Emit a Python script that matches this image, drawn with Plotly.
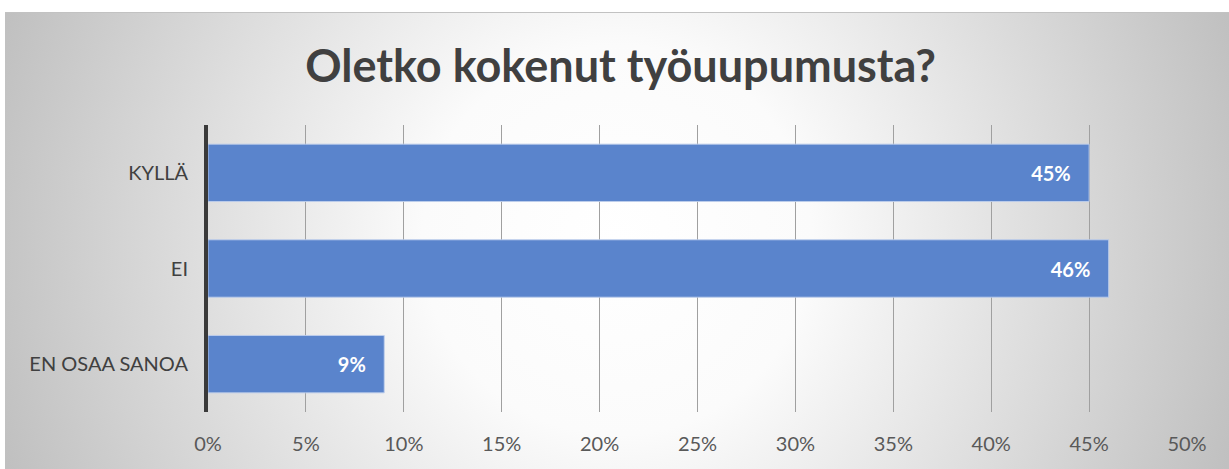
import base64
import plotly.graph_objects as go

categories = ["KYLLÄ", "EI", "EN OSAA SANOA"]
values = [0.45, 0.46, 0.09]
title_text = "Oletko kokenut työuupumusta?"

W, H = 1229, 469
L, R, T, B = 208, 42, 125, 57
pw, ph = W - L - R, H - T - B

svg = f"""<svg xmlns='http://www.w3.org/2000/svg' width='1224' height='457' viewBox='0 0 1224 457' preserveAspectRatio='none'>
<defs><radialGradient id='g' gradientUnits='userSpaceOnUse' cx='612' cy='228' r='650'>
<stop offset='0' stop-color='#ffffff'/>
<stop offset='0.3' stop-color='#fbfbfb'/>
<stop offset='1' stop-color='#c0c0c0'/>
</radialGradient></defs>
<rect x='0' y='0' width='1224' height='457' fill='url(#g)'/>
<line x1='0' y1='0.5' x2='1224' y2='0.5' stroke='#c2c2c2' stroke-width='1'/>
</svg>"""
src = "data:image/svg+xml;base64," + base64.b64encode(svg.encode()).decode()

fig = go.Figure(go.Bar(
    y=categories, x=values, orientation="h", width=0.6,
    marker=dict(color="#5A84CC", line=dict(color="rgba(190,206,236,0.9)", width=1)),
    texttemplate="<b>%{x:.0%}</b>\u00a0\u00a0\u00a0",
    textposition="inside", insidetextanchor="end",
    textfont=dict(family="Lato", size=20, color="white"),
    hoverinfo="skip",
))

fig.update_layout(
    width=W, height=H,
    margin=dict(l=L, r=R, t=T, b=B),
    paper_bgcolor="white", plot_bgcolor="rgba(0,0,0,0)",
    showlegend=False,
    title=dict(text=f"<b>{title_text}</b>", x=0.505, xanchor="center", xref="container",
               y=1 - 66 / H, yanchor="middle", yref="container",
               font=dict(family="Lato", size=45, color="#404040")),
    images=[dict(source=src, xref="paper", yref="paper",
                 x=(5 - L) / pw, y=(H - B - 12) / ph,
                 sizex=(W - 5) / pw, sizey=(H - 12) / ph,
                 xanchor="left", yanchor="top", sizing="stretch", layer="below")],
    xaxis=dict(range=[0, 0.5], dtick=0.05, tickformat=".0%", showgrid=True,
               gridcolor="#a0a0a0", gridwidth=1, zeroline=False, showline=False,
               ticks="", ticklabelstandoff=18,
               tickfont=dict(family="Lato", size=20, color="#595959")),
    yaxis=dict(autorange="reversed", showgrid=False, zeroline=False,
               showline=True, linecolor="#3a3a3a", linewidth=4,
               ticks="", ticklabelstandoff=12,
               tickfont=dict(family="Lato", size=20, color="#404040")),
)

fig.write_html("out.html", config={"displayModeBar": False},
               post_script="document.body.style.margin='0px';")
